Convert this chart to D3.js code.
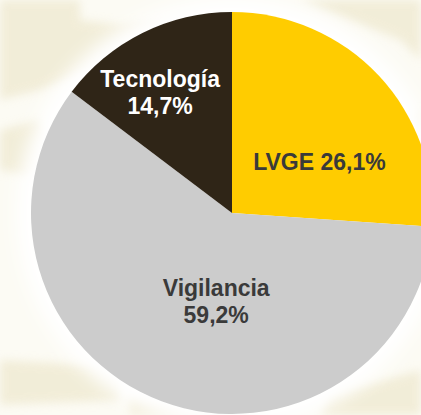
<!DOCTYPE html>
<html>
<head>
<meta charset="utf-8">
<script src="https://cdn.jsdelivr.net/npm/d3@7"></script>
<style>
html,body{margin:0;padding:0;background:#fdfcf7;}
svg{display:block;}
</style>
</head>
<body>
<svg id="chart" width="421" height="415"></svg>
<script>
const categories = ["LVGE", "Vigilancia", "Tecnología"];
const values = [26.1, 59.2, 14.7];
const labels = ["LVGE 26,1%", "Vigilancia\n59,2%", "Tecnología\n14,7%"];
const colors = ["#FFCC00", "#CCCCCC", "#2F2517"];
const textColors = ["#3a3a3a", "#3a3a3a", "#ffffff"];

const W = 421, H = 415;
const cx = 232, cy = 213, R = 201;
const svg = d3.select("#chart");
const defs = svg.append("defs");

defs.append("filter").attr("id", "blur").attr("x", "-20%").attr("y", "-20%").attr("width", "140%").attr("height", "140%")
  .append("feGaussianBlur").attr("stdDeviation", 5);
defs.append("filter").attr("id", "glow").attr("x", "-20%").attr("y", "-20%").attr("width", "140%").attr("height", "140%")
  .append("feGaussianBlur").attr("stdDeviation", 9);

// background: ivory with faint beige map-like shapes
svg.append("rect").attr("width", W).attr("height", H).attr("fill", "#fcfbf4");
const bg = svg.append("g").attr("filter", "url(#blur)").attr("fill", "#ebe4c6").attr("opacity", 0.6);
bg.append("path").attr("d", "M0,0 L80,0 L80,20 L120,25 L200,18 L230,40 L230,60 L170,70 L120,60 L90,70 L40,90 L0,100 Z");
bg.append("path").attr("d", "M0,130 L40,120 L60,160 L30,175 L0,170 Z");
bg.append("path").attr("d", "M0,360 L90,365 L120,372 L120,400 L0,405 Z");
bg.append("path").attr("d", "M330,395 L421,370 L421,415 L320,415 Z");
bg.append("path").attr("d", "M300,0 L421,0 L421,60 L400,40 L350,20 Z");
bg.append("path").attr("d", "M410,120 L421,110 L421,200 L412,190 Z");
bg.append("path").attr("d", "M130,395 L240,405 L240,415 L130,415 Z");

// white glow around the pie
svg.append("circle").attr("cx", cx).attr("cy", cy).attr("r", R + 14)
  .attr("fill", "#ffffff").attr("filter", "url(#glow)");

const pie = d3.pie().sort(null).value(d => d)(values);
const arc = d3.arc().innerRadius(0).outerRadius(R);

const g = svg.append("g").attr("transform", `translate(${cx},${cy})`);
g.selectAll("path.slice").data(pie).join("path")
  .attr("class", "slice")
  .attr("d", arc)
  .attr("fill", (d, i) => colors[i]);

// label placement: polar offset from slice mid-angle
const labelAdj = [
  {da: 12.6, r: 101.4},
  {da: -10.4, r: 90},
  {da: -4.3, r: 140.6}
];
const lineH = 27;
const fontPx = 23;
pie.forEach((d, i) => {
  const mid = (d.startAngle + d.endAngle) / 2 + labelAdj[i].da * Math.PI / 180;
  const x = Math.sin(mid) * labelAdj[i].r;
  const y = -Math.cos(mid) * labelAdj[i].r;
  const lines = labels[i].split("\n");
  const t = g.append("text")
    .attr("x", x).attr("y", y)
    .attr("text-anchor", "middle")
    .attr("font-family", "Liberation Sans, Arial, sans-serif")
    .attr("font-weight", "bold")
    .attr("font-size", fontPx + "px")
    .attr("fill", textColors[i]);
  const y0 = -(lines.length - 1) * lineH / 2 + fontPx * 0.36;
  lines.forEach((s, j) => {
    t.append("tspan").attr("x", x).attr("y", y + y0 + j * lineH).text(s);
  });
});
</script>
</body>
</html>
